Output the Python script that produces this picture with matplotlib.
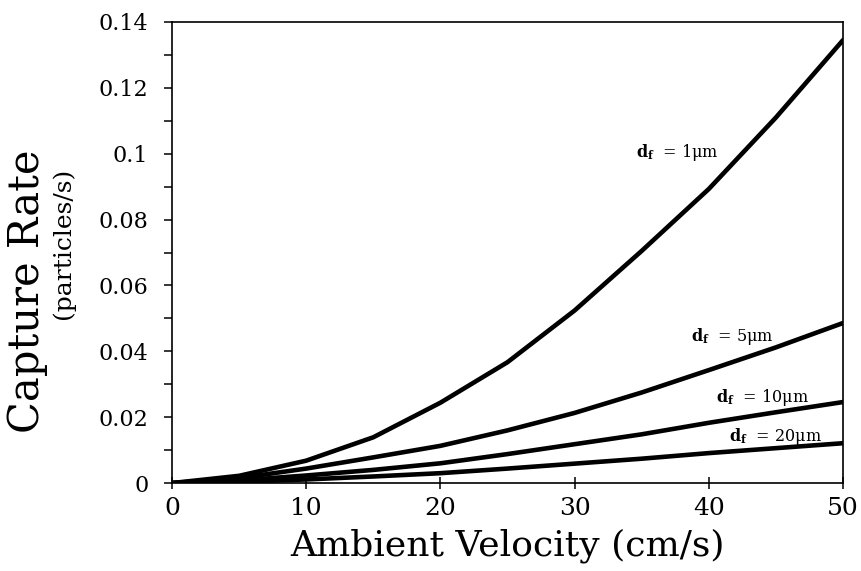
import matplotlib
matplotlib.use('Agg')
import matplotlib.pyplot as plt
from matplotlib.ticker import MultipleLocator

plt.rcParams['font.family'] = ['DejaVu Serif']
plt.rcParams['mathtext.fontset'] = 'dejavuserif'

# ambient velocity (cm/s)
velocity = [0, 5, 10, 15, 20, 25, 30, 35, 40, 45, 50]
# capture rate (particles/s) for each fibre diameter
rate_1um = [0, 0.0022, 0.0068, 0.0139, 0.0244, 0.0367, 0.0524, 0.0705, 0.0893, 0.1110, 0.1345]
rate_5um = [0, 0.0015, 0.0044, 0.0078, 0.0113, 0.0160, 0.0213, 0.0275, 0.0343, 0.0412, 0.0486]
rate_10um = [0, 0.0008, 0.0023, 0.0040, 0.0060, 0.0088, 0.0118, 0.0148, 0.0183, 0.0215, 0.0246]
rate_20um = [0, 0.0004, 0.0011, 0.0020, 0.0030, 0.0044, 0.0059, 0.0074, 0.0091, 0.0106, 0.0121]

labels = [r'$\mathbf{d_f}$  = 1μm', r'$\mathbf{d_f}$  = 5μm',
          r'$\mathbf{d_f}$  = 10μm', r'$\mathbf{d_f}$  = 20μm']
label_x = [34.6, 38.7, 40.5, 41.5]
label_y = [0.1005, 0.0445, 0.0260, 0.0140]

fig = plt.figure(figsize=(8.62, 5.71), dpi=100)
ax = fig.add_axes([0.1995, 0.154, 0.7785, 0.8075])

for series in [rate_1um, rate_5um, rate_10um, rate_20um]:
    ax.plot(velocity, series, color='black', linewidth=3.3, solid_capstyle='round')

for txt, x, y in zip(labels, label_x, label_y):
    ax.text(x, y, txt, fontsize=11.5, va='center', ha='left')

ax.set_xlim(0, 50)
ax.set_ylim(0, 0.14)
ax.set_xticks([0, 10, 20, 30, 40, 50])
ax.set_yticks([0, 0.02, 0.04, 0.06, 0.08, 0.1, 0.12, 0.14])
ax.set_yticklabels(['0', '0.02', '0.04', '0.06', '0.08', '0.1', '0.12', '0.14'])
ax.yaxis.set_minor_locator(MultipleLocator(0.01))

for s in ax.spines.values():
    s.set_linewidth(1.2)

ax.tick_params(axis='y', which='both', direction='out', length=6, width=1.1,
               labelsize=16, pad=11)
ax.tick_params(axis='x', which='major', direction='inout', length=8, width=1.1,
               labelsize=18, pad=6)

fig.text(0.045, 0.49, 'Capture Rate', rotation=90, rotation_mode='anchor',
         ha='center', va='baseline', fontsize=30)
fig.text(0.081, 0.573, '(particles/s)', rotation=90, rotation_mode='anchor',
         ha='center', va='baseline', fontsize=18)
ax.set_xlabel('Ambient Velocity (cm/s)', fontsize=26, labelpad=6)

plt.savefig('out.png', dpi=100)
